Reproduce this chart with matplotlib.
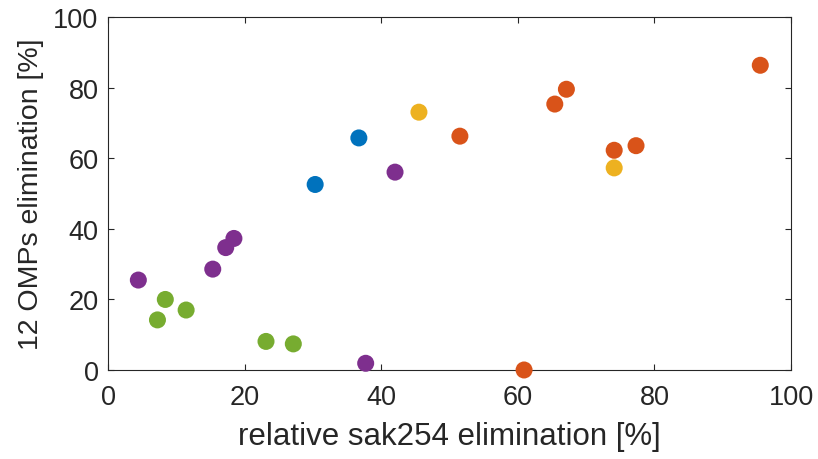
import matplotlib
matplotlib.use("Agg")
import matplotlib.pyplot as plt

plt.rcParams["font.family"] = ["Liberation Sans", "DejaVu Sans"]

# relative sak254 elimination [%] / 12 OMPs elimination [%], one group per colour
blue_x = [30.3, 36.7]
blue_y = [52.6, 65.8]

orange_x = [51.5, 60.9, 65.4, 67.1, 74.1, 77.3, 95.5]
orange_y = [66.3, 0.0, 75.4, 79.6, 62.3, 63.6, 86.4]

yellow_x = [45.5, 74.1]
yellow_y = [73.1, 57.3]

purple_x = [4.4, 15.3, 17.2, 18.4, 42.0, 37.7]
purple_y = [25.5, 28.6, 34.7, 37.3, 56.1, 1.9]

green_x = [7.2, 8.35, 11.4, 23.1, 27.1]
green_y = [14.2, 20.0, 17.0, 8.1, 7.4]

groups = [
    (blue_x, blue_y, "#0072BD"),
    (orange_x, orange_y, "#D95319"),
    (yellow_x, yellow_y, "#EDB120"),
    (purple_x, purple_y, "#7E2F8E"),
    (green_x, green_y, "#77AC30"),
]

ticks = [0, 20, 40, 60, 80, 100]
ink = "#262626"

fig = plt.figure(figsize=(8.18, 4.6), dpi=100)
ax = fig.add_axes([0.1324, 0.1935, 0.8346, 0.7667])

for xs, ys, col in groups:
    ax.scatter(xs, ys, s=150, color=col, edgecolors="none", clip_on=False, zorder=3)

ax.set_xlim(0, 100)
ax.set_ylim(0, 100)
ax.set_xticks(ticks)
ax.set_yticks(ticks)
ax.tick_params(direction="in", length=4, width=0.8, colors=ink, labelsize=19.5,
               top=True, right=True)
ax.tick_params(axis="x", pad=10)
ax.tick_params(axis="y", pad=7)
for sp in ax.spines.values():
    sp.set_color(ink)
    sp.set_linewidth(0.8)

ax.set_xlabel("relative sak254 elimination [%]", fontsize=22.5, color=ink, labelpad=8)
ax.set_ylabel("12 OMPs elimination [%]", fontsize=20.5, color=ink, labelpad=7)

fig.savefig("out.png", dpi=100)
